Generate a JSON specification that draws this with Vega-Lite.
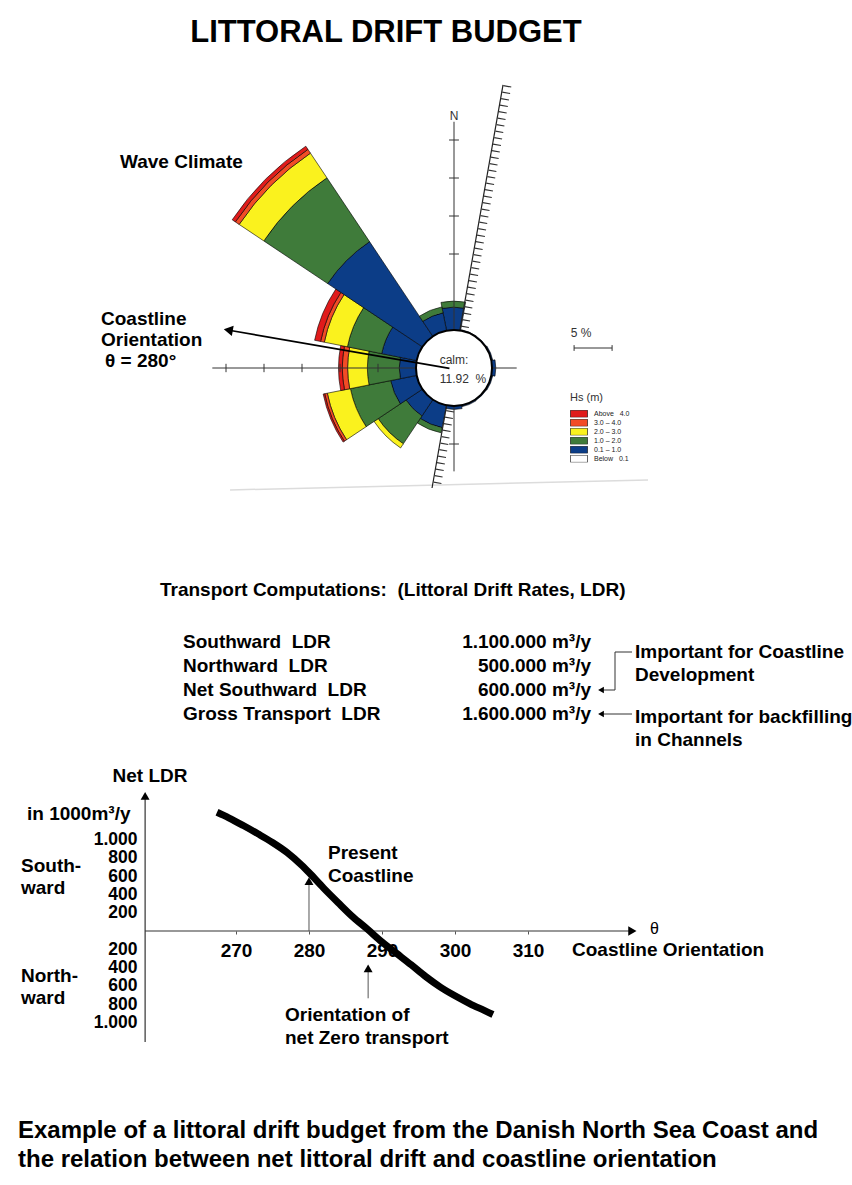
{
  "$schema": "https://vega.github.io/schema/vega-lite/v6.json",
  "padding": 0,
  "spacing": 0,
  "bounds": "flush",
  "background": "white",
  "config": {"view": {"stroke": null}},
  "resolve": {"scale": {"x": "independent", "y": "independent"}},
  "vconcat": [
    {
      "width": 852,
      "height": 560,
      "layer": [
        {
          "data": {"values": [{"u": -29.47, "v": -16.05, "u2": 25.53, "v2": -14.74}]},
          "mark": {"type": "rule", "stroke": "#dcdcdc", "strokeWidth": 1.5},
          "encoding": {
            "x": {"field": "u", "type": "quantitative", "scale": {"domain": [-59.737, 52.368], "nice": false, "zero": false}, "axis": null},
            "y": {"field": "v", "type": "quantitative", "scale": {"domain": [-25.263, 48.421], "nice": false, "zero": false}, "axis": null},
            "x2": {"field": "u2"}, "y2": {"field": "v2"}
          }
        },
        {
          "data": {"values": [
            {"dir": "N", "t0": -11.25, "t1": 10, "r0": 5, "r1": 8.0, "hs": "0.1 \u2013 1.0"},
            {"dir": "N", "t0": -11.25, "t1": 10, "r0": 8.0, "r1": 8.8, "hs": "1.0 \u2013 2.0"},
            {"dir": "NNE", "t0": 11.25, "t1": 33.75, "r0": 5, "r1": 5.12, "hs": "0.1 \u2013 1.0"},
            {"dir": "NE", "t0": 33.75, "t1": 56.25, "r0": 5, "r1": 5.12, "hs": "0.1 \u2013 1.0"},
            {"dir": "ENE", "t0": 56.25, "t1": 78.75, "r0": 5, "r1": 5.2, "hs": "0.1 \u2013 1.0"},
            {"dir": "E", "t0": 78.75, "t1": 101.25, "r0": 5, "r1": 5.5, "hs": "0.1 \u2013 1.0"},
            {"dir": "ESE", "t0": 101.25, "t1": 123.75, "r0": 5, "r1": 5.2, "hs": "0.1 \u2013 1.0"},
            {"dir": "SE", "t0": 123.75, "t1": 146.25, "r0": 5, "r1": 5.15, "hs": "0.1 \u2013 1.0"},
            {"dir": "SSE", "t0": 146.25, "t1": 168.75, "r0": 5, "r1": 5.2, "hs": "0.1 \u2013 1.0"},
            {"dir": "S", "t0": 168.75, "t1": 191.25, "r0": 5, "r1": 5.45, "hs": "0.1 \u2013 1.0"},
            {"dir": "SSW", "t0": 191.25, "t1": 213.75, "r0": 5, "r1": 8.0, "hs": "0.1 \u2013 1.0"},
            {"dir": "SSW", "t0": 191.25, "t1": 213.75, "r0": 8.0, "r1": 8.7, "hs": "1.0 \u2013 2.0"},
            {"dir": "SW", "t0": 213.75, "t1": 236.25, "r0": 5, "r1": 7.6, "hs": "0.1 \u2013 1.0"},
            {"dir": "SW", "t0": 213.75, "t1": 236.25, "r0": 7.6, "r1": 12.0, "hs": "1.0 \u2013 2.0"},
            {"dir": "SW", "t0": 213.75, "t1": 236.25, "r0": 12.0, "r1": 12.65, "hs": "2.0 \u2013 3.0"},
            {"dir": "WSW", "t0": 236.25, "t1": 258.75, "r0": 5, "r1": 8.5, "hs": "0.1 \u2013 1.0"},
            {"dir": "WSW", "t0": 236.25, "t1": 258.75, "r0": 8.5, "r1": 13.9, "hs": "1.0 \u2013 2.0"},
            {"dir": "WSW", "t0": 236.25, "t1": 258.75, "r0": 13.9, "r1": 17.0, "hs": "2.0 \u2013 3.0"},
            {"dir": "WSW", "t0": 236.25, "t1": 258.75, "r0": 17.0, "r1": 17.35, "hs": "3.0 \u2013 4.0"},
            {"dir": "WSW", "t0": 236.25, "t1": 258.75, "r0": 17.35, "r1": 17.55, "hs": "Above\u00a0\u00a0\u00a04.0"},
            {"dir": "W", "t0": 258.75, "t1": 281.25, "r0": 5, "r1": 7.2, "hs": "0.1 \u2013 1.0"},
            {"dir": "W", "t0": 258.75, "t1": 281.25, "r0": 7.2, "r1": 11.4, "hs": "1.0 \u2013 2.0"},
            {"dir": "W", "t0": 258.75, "t1": 281.25, "r0": 11.4, "r1": 14.0, "hs": "2.0 \u2013 3.0"},
            {"dir": "W", "t0": 258.75, "t1": 281.25, "r0": 14.0, "r1": 14.7, "hs": "3.0 \u2013 4.0"},
            {"dir": "W", "t0": 258.75, "t1": 281.25, "r0": 14.7, "r1": 15.2, "hs": "Above\u00a0\u00a0\u00a04.0"},
            {"dir": "WNW", "t0": 281.25, "t1": 303.75, "r0": 5, "r1": 9.7, "hs": "0.1 \u2013 1.0"},
            {"dir": "WNW", "t0": 281.25, "t1": 303.75, "r0": 9.7, "r1": 14.3, "hs": "1.0 \u2013 2.0"},
            {"dir": "WNW", "t0": 281.25, "t1": 303.75, "r0": 14.3, "r1": 17.4, "hs": "2.0 \u2013 3.0"},
            {"dir": "WNW", "t0": 281.25, "t1": 303.75, "r0": 17.4, "r1": 17.9, "hs": "3.0 \u2013 4.0"},
            {"dir": "WNW", "t0": 281.25, "t1": 303.75, "r0": 17.9, "r1": 18.7, "hs": "Above\u00a0\u00a0\u00a04.0"},
            {"dir": "NW", "t0": 303.75, "t1": 326.25, "r0": 5, "r1": 20.0, "hs": "0.1 \u2013 1.0"},
            {"dir": "NW", "t0": 303.75, "t1": 326.25, "r0": 20.0, "r1": 30.1, "hs": "1.0 \u2013 2.0"},
            {"dir": "NW", "t0": 303.75, "t1": 326.25, "r0": 30.1, "r1": 34.0, "hs": "2.0 \u2013 3.0"},
            {"dir": "NW", "t0": 303.75, "t1": 326.25, "r0": 34.0, "r1": 34.6, "hs": "3.0 \u2013 4.0"},
            {"dir": "NW", "t0": 303.75, "t1": 326.25, "r0": 34.6, "r1": 35.1, "hs": "Above\u00a0\u00a0\u00a04.0"},
            {"dir": "NNW", "t0": 326.25, "t1": 348.75, "r0": 5, "r1": 7.4, "hs": "0.1 \u2013 1.0"},
            {"dir": "NNW", "t0": 326.25, "t1": 348.75, "r0": 7.4, "r1": 8.2, "hs": "1.0 \u2013 2.0"}
          ]},
          "mark": {"type": "arc", "stroke": "black", "strokeWidth": 0.6},
          "encoding": {
            "x": {"datum": 0, "type": "quantitative", "scale": {"domain": [-59.737, 52.368], "nice": false, "zero": false}, "axis": null},
            "y": {"datum": 0, "type": "quantitative", "scale": {"domain": [-25.263, 48.421], "nice": false, "zero": false}, "axis": null},
            "theta": {"field": "t0", "type": "quantitative", "scale": {"domain": [0, 360]}},
            "theta2": {"field": "t1"},
            "radius": {"field": "r1", "type": "quantitative", "scale": {"type": "linear", "domain": [0, 50], "range": [0, 380], "zero": true}},
            "radius2": {"field": "r0"},
            "fill": {
              "field": "hs",
              "type": "nominal",
              "scale": {
                "domain": ["Above\u00a0\u00a0\u00a04.0", "3.0 \u2013 4.0", "2.0 \u2013 3.0", "1.0 \u2013 2.0", "0.1 \u2013 1.0", "Below\u00a0\u00a0\u00a00.1"],
                "range": ["#e01b1b", "#f24c26", "#faf21e", "#3f7b3a", "#0c3d87", "#ffffff"]
              },
              "legend": {
                "orient": "none",
                "legendX": 570,
                "legendY": 392,
                "title": "Hs (m)",
                "titleFont": "Liberation Sans",
                "titleFontSize": 11,
                "titleFontWeight": "normal",
                "titleColor": "#333333",
                "titlePadding": 7,
                "symbolType": "M-1,-0.42H1V0.42H-1Z",
                "symbolSize": 289,
                "symbolStrokeColor": "black",
                "symbolStrokeWidth": 0.6,
                "symbolOpacity": 1,
                "clipHeight": 7.6,
                "rowPadding": 0,
                "labelFont": "Liberation Sans",
                "labelFontSize": 7,
                "labelColor": "#222222",
                "labelOffset": 6
              }
            }
          }
        },
        {
          "data": {"values": [
            {"u": -31.8, "v": 0, "u2": 8.25, "v2": 0},
            {"u": 0, "v": -13.6, "u2": 0, "v2": 32.4},
            {"u": -10, "v": -0.55, "u2": -10, "v2": 0.55},
            {"u": -15, "v": -0.55, "u2": -15, "v2": 0.55},
            {"u": -20, "v": -0.55, "u2": -20, "v2": 0.55},
            {"u": -25, "v": -0.55, "u2": -25, "v2": 0.55},
            {"u": -30, "v": -0.55, "u2": -30, "v2": 0.55},
            {"u": -0.65, "v": 15, "u2": 0.65, "v2": 15},
            {"u": -0.65, "v": 20, "u2": 0.65, "v2": 20},
            {"u": -0.65, "v": 25, "u2": 0.65, "v2": 25},
            {"u": -0.65, "v": 30, "u2": 0.65, "v2": 30},
            {"u": -0.65, "v": -10, "u2": 0.65, "v2": -10}
          ]},
          "mark": {"type": "rule", "stroke": "#333333", "strokeWidth": 1},
          "encoding": {
            "x": {"field": "u", "type": "quantitative", "scale": {"domain": [-59.737, 52.368], "nice": false, "zero": false}, "axis": null},
            "y": {"field": "v", "type": "quantitative", "scale": {"domain": [-25.263, 48.421], "nice": false, "zero": false}, "axis": null},
            "x2": {"field": "u2"}, "y2": {"field": "v2"}
          }
        },
        {
          "data": {"values": [{"u": 6.45, "v": 37.24, "u2": -2.89, "v2": -15.79}]},
          "mark": {"type": "rule", "stroke": "#222222", "strokeWidth": 1.2},
          "encoding": {
            "x": {"field": "u", "type": "quantitative", "scale": {"domain": [-59.737, 52.368], "nice": false, "zero": false}, "axis": null},
            "y": {"field": "v", "type": "quantitative", "scale": {"domain": [-25.263, 48.421], "nice": false, "zero": false}, "axis": null},
            "x2": {"field": "u2"}, "y2": {"field": "v2"}
          }
        },
        {
          "data": {"values": [{"u": 7.03, "v": 37.14, "u2": -2.31, "v2": -15.89}]},
          "mark": {"type": "rule", "stroke": "#333333", "strokeWidth": 8, "strokeDash": [1.2, 5.4]},
          "encoding": {
            "x": {"field": "u", "type": "quantitative", "scale": {"domain": [-59.737, 52.368], "nice": false, "zero": false}, "axis": null},
            "y": {"field": "v", "type": "quantitative", "scale": {"domain": [-25.263, 48.421], "nice": false, "zero": false}, "axis": null},
            "x2": {"field": "u2"}, "y2": {"field": "v2"}
          }
        },
        {
          "data": {"values": [{"t0": 0, "t1": 360, "r0": 0, "r1": 5}]},
          "mark": {"type": "arc", "fill": "white", "stroke": "black", "strokeWidth": 2},
          "encoding": {
            "x": {"datum": 0, "type": "quantitative", "scale": {"domain": [-59.737, 52.368], "nice": false, "zero": false}, "axis": null},
            "y": {"datum": 0, "type": "quantitative", "scale": {"domain": [-25.263, 48.421], "nice": false, "zero": false}, "axis": null},
            "theta": {"field": "t0", "type": "quantitative", "scale": {"domain": [0, 360]}},
            "theta2": {"field": "t1"},
            "radius": {"field": "r1", "type": "quantitative", "scale": {"type": "linear", "domain": [0, 50], "range": [0, 380], "zero": true}},
            "radius2": {"field": "r0"}
          }
        },
        {
          "data": {"values": [{"u": -0.6, "v": -0.05, "u2": -29.4, "v2": 4.93}]},
          "mark": {"type": "rule", "stroke": "black", "strokeWidth": 1.6},
          "encoding": {
            "x": {"field": "u", "type": "quantitative", "scale": {"domain": [-59.737, 52.368], "nice": false, "zero": false}, "axis": null},
            "y": {"field": "v", "type": "quantitative", "scale": {"domain": [-25.263, 48.421], "nice": false, "zero": false}, "axis": null},
            "x2": {"field": "u2"}, "y2": {"field": "v2"}
          }
        },
        {
          "data": {"values": [{"u": -29.7, "v": 4.98}]},
          "mark": {"type": "point", "shape": "triangle-up", "filled": true, "fill": "black", "opacity": 1, "size": 110, "angle": 280, "strokeWidth": 0},
          "encoding": {
            "x": {"field": "u", "type": "quantitative", "scale": {"domain": [-59.737, 52.368], "nice": false, "zero": false}, "axis": null},
            "y": {"field": "v", "type": "quantitative", "scale": {"domain": [-25.263, 48.421], "nice": false, "zero": false}, "axis": null}
          }
        },
        {
          "data": {"values": [{"u": 15.8, "v": 2.63, "u2": 20.8, "v2": 2.63}, {"u": 15.8, "v": 2.25, "u2": 15.8, "v2": 3.01}, {"u": 20.8, "v": 2.25, "u2": 20.8, "v2": 3.01}]},
          "mark": {"type": "rule", "stroke": "#333333", "strokeWidth": 1},
          "encoding": {
            "x": {"field": "u", "type": "quantitative", "scale": {"domain": [-59.737, 52.368], "nice": false, "zero": false}, "axis": null},
            "y": {"field": "v", "type": "quantitative", "scale": {"domain": [-25.263, 48.421], "nice": false, "zero": false}, "axis": null},
            "x2": {"field": "u2"}, "y2": {"field": "v2"}
          }
        },
        {
          "data": {"values": [{"u": -8.95, "v": 44.08, "label": "LITTORAL DRIFT BUDGET"}]},
          "mark": {"type": "text", "font": "Liberation Sans", "fontWeight": "bold", "fontSize": 31, "align": "center", "baseline": "middle", "fill": "black"},
          "encoding": {
            "x": {"field": "u", "type": "quantitative", "scale": {"domain": [-59.737, 52.368], "nice": false, "zero": false}, "axis": null},
            "y": {"field": "v", "type": "quantitative", "scale": {"domain": [-25.263, 48.421], "nice": false, "zero": false}, "axis": null},
            "text": {"field": "label"}
          }
        },
        {
          "data": {"values": [
            {"u": -43.95, "v": 27.17, "label": "Wave Climate"},
            {"u": -46.45, "v": 6.45, "label": "Coastline"},
            {"u": -46.45, "v": 3.68, "label": "Orientation"},
            {"u": -45.92, "v": 0.92, "label": "\u03b8 = 280\u00b0"}
          ]},
          "mark": {"type": "text", "font": "Liberation Sans", "fontWeight": "bold", "fontSize": 19, "align": "left", "baseline": "middle", "fill": "black"},
          "encoding": {
            "x": {"field": "u", "type": "quantitative", "scale": {"domain": [-59.737, 52.368], "nice": false, "zero": false}, "axis": null},
            "y": {"field": "v", "type": "quantitative", "scale": {"domain": [-25.263, 48.421], "nice": false, "zero": false}, "axis": null},
            "text": {"field": "label"}
          }
        },
        {
          "data": {"values": [
            {"u": 0, "v": 33.22, "label": "N"},
            {"u": 0, "v": 1.05, "label": "calm:"},
            {"u": 1.18, "v": -1.45, "label": "11.92\u00a0 %"},
            {"u": 16.71, "v": 4.61, "label": "5 %"}
          ]},
          "mark": {"type": "text", "font": "Liberation Sans", "fontWeight": "normal", "fontSize": 12, "align": "center", "baseline": "middle", "fill": "#333333"},
          "encoding": {
            "x": {"field": "u", "type": "quantitative", "scale": {"domain": [-59.737, 52.368], "nice": false, "zero": false}, "axis": null},
            "y": {"field": "v", "type": "quantitative", "scale": {"domain": [-25.263, 48.421], "nice": false, "zero": false}, "axis": null},
            "text": {"field": "label"}
          }
        }
      ]
    },
    {
      "width": 852,
      "height": 195,
      "layer": [
        {
          "data": {"values": [
            {"x": 160, "y": 30, "label": "Transport Computations:\u00a0 (Littoral Drift Rates, LDR)"},
            {"x": 183, "y": 82, "label": "Southward\u00a0 LDR"},
            {"x": 183, "y": 106, "label": "Northward\u00a0 LDR"},
            {"x": 183, "y": 130, "label": "Net Southward\u00a0 LDR"},
            {"x": 183, "y": 154, "label": "Gross Transport\u00a0 LDR"},
            {"x": 635, "y": 92, "label": "Important for Coastline"},
            {"x": 635, "y": 115, "label": "Development"},
            {"x": 635, "y": 157, "label": "Important for backfilling"},
            {"x": 635, "y": 180, "label": "in Channels"}
          ]},
          "mark": {"type": "text", "font": "Liberation Sans", "fontWeight": "bold", "fontSize": 19, "align": "left", "baseline": "middle", "fill": "black"},
          "encoding": {
            "x": {"field": "x", "type": "quantitative", "scale": {"domain": [0, 852], "nice": false, "zero": false}, "axis": null},
            "y": {"field": "y", "type": "quantitative", "scale": {"domain": [0, 195], "reverse": true, "nice": false, "zero": false}, "axis": null},
            "text": {"field": "label"}
          }
        },
        {
          "data": {"values": [
            {"x": 591, "y": 82, "label": "1.100.000 m\u00b3/y"},
            {"x": 591, "y": 106, "label": "500.000 m\u00b3/y"},
            {"x": 591, "y": 130, "label": "600.000 m\u00b3/y"},
            {"x": 591, "y": 154, "label": "1.600.000 m\u00b3/y"}
          ]},
          "mark": {"type": "text", "font": "Liberation Sans", "fontWeight": "bold", "fontSize": 19, "align": "right", "baseline": "middle", "fill": "black"},
          "encoding": {
            "x": {"field": "x", "type": "quantitative", "scale": {"domain": [0, 852], "nice": false, "zero": false}, "axis": null},
            "y": {"field": "y", "type": "quantitative", "scale": {"domain": [0, 195], "reverse": true, "nice": false, "zero": false}, "axis": null},
            "text": {"field": "label"}
          }
        },
        {
          "data": {"values": [
            {"x": 615, "y": 92, "x2": 632, "y2": 92},
            {"x": 615, "y": 92, "x2": 615, "y2": 130},
            {"x": 615, "y": 130, "x2": 603, "y2": 130},
            {"x": 632, "y": 154, "x2": 603, "y2": 154}
          ]},
          "mark": {"type": "rule", "stroke": "#333333", "strokeWidth": 1},
          "encoding": {
            "x": {"field": "x", "type": "quantitative", "scale": {"domain": [0, 852], "nice": false, "zero": false}, "axis": null},
            "y": {"field": "y", "type": "quantitative", "scale": {"domain": [0, 195], "reverse": true, "nice": false, "zero": false}, "axis": null},
            "x2": {"field": "x2"}, "y2": {"field": "y2"}
          }
        },
        {
          "data": {"values": [{"x": 601, "y": 130}, {"x": 601, "y": 154}]},
          "mark": {"type": "point", "shape": "triangle-left", "filled": true, "fill": "black", "opacity": 1, "size": 45, "strokeWidth": 0},
          "encoding": {
            "x": {"field": "x", "type": "quantitative", "scale": {"domain": [0, 852], "nice": false, "zero": false}, "axis": null},
            "y": {"field": "y", "type": "quantitative", "scale": {"domain": [0, 195], "reverse": true, "nice": false, "zero": false}, "axis": null}
          }
        }
      ]
    },
    {
      "width": 852,
      "height": 335,
      "layer": [
        {
          "data": {"values": [
            {"t": 257.55, "q": 0, "t2": 324, "q2": 0},
            {"t": 257.55, "q": -1216, "t2": 257.55, "q2": 1470}
          ]},
          "mark": {"type": "rule", "stroke": "#333333", "strokeWidth": 1.2},
          "encoding": {
            "x": {"field": "t", "type": "quantitative", "scale": {"domain": [237.671, 354.384], "nice": false, "zero": false},
              "axis": {"orient": "bottom", "offset": -159, "values": [270, 280, 290, 300, 310], "domain": false, "ticks": true, "tickSize": 3, "tickColor": "#555555", "grid": false, "title": null, "labelFont": "Liberation Sans", "labelFontWeight": "bold", "labelFontSize": 19, "labelColor": "black", "labelPadding": 7, "labelFlush": false, "labelOverlap": false}},
            "y": {"field": "q", "type": "quantitative", "scale": {"domain": [-1741.5, 1927.7], "nice": false, "zero": false},
              "axis": {"orient": "left", "offset": -145, "values": [-1000, -800, -600, -400, -200, 200, 400, 600, 800, 1000], "domain": false, "ticks": false, "grid": false, "title": null, "labelFont": "Liberation Sans", "labelFontWeight": "bold", "labelFontSize": 17.5, "labelColor": "black", "labelPadding": 8, "labelOverlap": false, "labelFlush": false, "labelBaseline": "middle", "labelExpr": "replace(format(abs(datum.value), ','), ',', '.')"}},
            "x2": {"field": "t2"}, "y2": {"field": "q2"}
          }
        },
        {
          "data": {"values": [
            {"t": 280, "q": 0, "t2": 280, "q2": 520},
            {"t": 288.1, "q": -440, "t2": 288.1, "q2": -737}
          ]},
          "mark": {"type": "rule", "stroke": "#555555", "strokeWidth": 1},
          "encoding": {
            "x": {"field": "t", "type": "quantitative", "scale": {"domain": [237.671, 354.384], "nice": false, "zero": false},
              "axis": {"orient": "bottom", "offset": -159, "values": [270, 280, 290, 300, 310], "domain": false, "ticks": true, "tickSize": 3, "tickColor": "#555555", "grid": false, "title": null, "labelFont": "Liberation Sans", "labelFontWeight": "bold", "labelFontSize": 19, "labelColor": "black", "labelPadding": 7, "labelFlush": false, "labelOverlap": false}},
            "y": {"field": "q", "type": "quantitative", "scale": {"domain": [-1741.5, 1927.7], "nice": false, "zero": false},
              "axis": {"orient": "left", "offset": -145, "values": [-1000, -800, -600, -400, -200, 200, 400, 600, 800, 1000], "domain": false, "ticks": false, "grid": false, "title": null, "labelFont": "Liberation Sans", "labelFontWeight": "bold", "labelFontSize": 17.5, "labelColor": "black", "labelPadding": 8, "labelOverlap": false, "labelFlush": false, "labelBaseline": "middle", "labelExpr": "replace(format(abs(datum.value), ','), ',', '.')"}},
            "x2": {"field": "t2"}, "y2": {"field": "q2"}
          }
        },
        {
          "data": {"values": [{"t": 257.55, "q": 1480}, {"t": 280, "q": 545}, {"t": 288.1, "q": -410}]},
          "mark": {"type": "point", "shape": "triangle-up", "filled": true, "fill": "black", "opacity": 1, "size": 80, "strokeWidth": 0},
          "encoding": {
            "x": {"field": "t", "type": "quantitative", "scale": {"domain": [237.671, 354.384], "nice": false, "zero": false},
              "axis": {"orient": "bottom", "offset": -159, "values": [270, 280, 290, 300, 310], "domain": false, "ticks": true, "tickSize": 3, "tickColor": "#555555", "grid": false, "title": null, "labelFont": "Liberation Sans", "labelFontWeight": "bold", "labelFontSize": 19, "labelColor": "black", "labelPadding": 7, "labelFlush": false, "labelOverlap": false}},
            "y": {"field": "q", "type": "quantitative", "scale": {"domain": [-1741.5, 1927.7], "nice": false, "zero": false},
              "axis": {"orient": "left", "offset": -145, "values": [-1000, -800, -600, -400, -200, 200, 400, 600, 800, 1000], "domain": false, "ticks": false, "grid": false, "title": null, "labelFont": "Liberation Sans", "labelFontWeight": "bold", "labelFontSize": 17.5, "labelColor": "black", "labelPadding": 8, "labelOverlap": false, "labelFlush": false, "labelBaseline": "middle", "labelExpr": "replace(format(abs(datum.value), ','), ',', '.')"}}
          }
        },
        {
          "data": {"values": [{"t": 324.3, "q": 0}]},
          "mark": {"type": "point", "shape": "triangle-right", "filled": true, "fill": "black", "opacity": 1, "size": 90, "strokeWidth": 0},
          "encoding": {
            "x": {"field": "t", "type": "quantitative", "scale": {"domain": [237.671, 354.384], "nice": false, "zero": false},
              "axis": {"orient": "bottom", "offset": -159, "values": [270, 280, 290, 300, 310], "domain": false, "ticks": true, "tickSize": 3, "tickColor": "#555555", "grid": false, "title": null, "labelFont": "Liberation Sans", "labelFontWeight": "bold", "labelFontSize": 19, "labelColor": "black", "labelPadding": 7, "labelFlush": false, "labelOverlap": false}},
            "y": {"field": "q", "type": "quantitative", "scale": {"domain": [-1741.5, 1927.7], "nice": false, "zero": false},
              "axis": {"orient": "left", "offset": -145, "values": [-1000, -800, -600, -400, -200, 200, 400, 600, 800, 1000], "domain": false, "ticks": false, "grid": false, "title": null, "labelFont": "Liberation Sans", "labelFontWeight": "bold", "labelFontSize": 17.5, "labelColor": "black", "labelPadding": 8, "labelOverlap": false, "labelFlush": false, "labelBaseline": "middle", "labelExpr": "replace(format(abs(datum.value), ','), ',', '.')"}}
          }
        },
        {
          "data": {"values": [
            {"t": 267.4, "q": 1300},
            {"t": 269, "q": 1240},
            {"t": 271, "q": 1155},
            {"t": 273, "q": 1065},
            {"t": 275, "q": 970},
            {"t": 277, "q": 860},
            {"t": 279, "q": 720},
            {"t": 280, "q": 640},
            {"t": 282, "q": 470},
            {"t": 284, "q": 310},
            {"t": 286, "q": 155},
            {"t": 288, "q": 20},
            {"t": 290, "q": -120},
            {"t": 292, "q": -245},
            {"t": 294, "q": -370},
            {"t": 296, "q": -500},
            {"t": 298, "q": -615},
            {"t": 300, "q": -710},
            {"t": 302, "q": -795},
            {"t": 304, "q": -870},
            {"t": 305.2, "q": -915}
          ]},
          "mark": {"type": "line", "stroke": "black", "strokeWidth": 7, "interpolate": "monotone", "strokeCap": "butt"},
          "encoding": {
            "x": {"field": "t", "type": "quantitative", "scale": {"domain": [237.671, 354.384], "nice": false, "zero": false},
              "axis": {"orient": "bottom", "offset": -159, "values": [270, 280, 290, 300, 310], "domain": false, "ticks": true, "tickSize": 3, "tickColor": "#555555", "grid": false, "title": null, "labelFont": "Liberation Sans", "labelFontWeight": "bold", "labelFontSize": 19, "labelColor": "black", "labelPadding": 7, "labelFlush": false, "labelOverlap": false}},
            "y": {"field": "q", "type": "quantitative", "scale": {"domain": [-1741.5, 1927.7], "nice": false, "zero": false},
              "axis": {"orient": "left", "offset": -145, "values": [-1000, -800, -600, -400, -200, 200, 400, 600, 800, 1000], "domain": false, "ticks": false, "grid": false, "title": null, "labelFont": "Liberation Sans", "labelFontWeight": "bold", "labelFontSize": 17.5, "labelColor": "black", "labelPadding": 8, "labelOverlap": false, "labelFlush": false, "labelBaseline": "middle", "labelExpr": "replace(format(abs(datum.value), ','), ',', '.')"}}
          }
        },
        {
          "data": {"values": [
            {"t": 241.37, "q": 1285, "label": "in 1000m\u00b3/y"},
            {"t": 240.55, "q": 712, "label": "South-"},
            {"t": 240.55, "q": 471, "label": "ward"},
            {"t": 240.55, "q": -493, "label": "North-"},
            {"t": 240.55, "q": -734, "label": "ward"},
            {"t": 282.6, "q": 854, "label": "Present"},
            {"t": 282.6, "q": 602, "label": "Coastline"},
            {"t": 276.71, "q": -920, "label": "Orientation of"},
            {"t": 276.71, "q": -1172, "label": "net Zero transport"},
            {"t": 316.03, "q": -208, "label": "Coastline Orientation"}
          ]},
          "mark": {"type": "text", "font": "Liberation Sans", "fontWeight": "bold", "fontSize": 19, "align": "left", "baseline": "middle", "fill": "black"},
          "encoding": {
            "x": {"field": "t", "type": "quantitative", "scale": {"domain": [237.671, 354.384], "nice": false, "zero": false},
              "axis": {"orient": "bottom", "offset": -159, "values": [270, 280, 290, 300, 310], "domain": false, "ticks": true, "tickSize": 3, "tickColor": "#555555", "grid": false, "title": null, "labelFont": "Liberation Sans", "labelFontWeight": "bold", "labelFontSize": 19, "labelColor": "black", "labelPadding": 7, "labelFlush": false, "labelOverlap": false}},
            "y": {"field": "q", "type": "quantitative", "scale": {"domain": [-1741.5, 1927.7], "nice": false, "zero": false},
              "axis": {"orient": "left", "offset": -145, "values": [-1000, -800, -600, -400, -200, 200, 400, 600, 800, 1000], "domain": false, "ticks": false, "grid": false, "title": null, "labelFont": "Liberation Sans", "labelFontWeight": "bold", "labelFontSize": 17.5, "labelColor": "black", "labelPadding": 8, "labelOverlap": false, "labelFlush": false, "labelBaseline": "middle", "labelExpr": "replace(format(abs(datum.value), ','), ',', '.')"}},
            "text": {"field": "label"}
          }
        },
        {
          "data": {"values": [{"t": 258.22, "q": 1698, "label": "Net LDR"}]},
          "mark": {"type": "text", "font": "Liberation Sans", "fontWeight": "bold", "fontSize": 19, "align": "center", "baseline": "middle", "fill": "black"},
          "encoding": {
            "x": {"field": "t", "type": "quantitative", "scale": {"domain": [237.671, 354.384], "nice": false, "zero": false},
              "axis": {"orient": "bottom", "offset": -159, "values": [270, 280, 290, 300, 310], "domain": false, "ticks": true, "tickSize": 3, "tickColor": "#555555", "grid": false, "title": null, "labelFont": "Liberation Sans", "labelFontWeight": "bold", "labelFontSize": 19, "labelColor": "black", "labelPadding": 7, "labelFlush": false, "labelOverlap": false}},
            "y": {"field": "q", "type": "quantitative", "scale": {"domain": [-1741.5, 1927.7], "nice": false, "zero": false},
              "axis": {"orient": "left", "offset": -145, "values": [-1000, -800, -600, -400, -200, 200, 400, 600, 800, 1000], "domain": false, "ticks": false, "grid": false, "title": null, "labelFont": "Liberation Sans", "labelFontWeight": "bold", "labelFontSize": 17.5, "labelColor": "black", "labelPadding": 8, "labelOverlap": false, "labelFlush": false, "labelBaseline": "middle", "labelExpr": "replace(format(abs(datum.value), ','), ',', '.')"}},
            "text": {"field": "label"}
          }
        },
        {
          "data": {"values": [{"t": 326.71, "q": 22, "label": "\u03b8"}]},
          "mark": {"type": "text", "font": "Liberation Sans", "fontWeight": "normal", "fontSize": 16, "align": "left", "baseline": "middle", "fill": "black"},
          "encoding": {
            "x": {"field": "t", "type": "quantitative", "scale": {"domain": [237.671, 354.384], "nice": false, "zero": false},
              "axis": {"orient": "bottom", "offset": -159, "values": [270, 280, 290, 300, 310], "domain": false, "ticks": true, "tickSize": 3, "tickColor": "#555555", "grid": false, "title": null, "labelFont": "Liberation Sans", "labelFontWeight": "bold", "labelFontSize": 19, "labelColor": "black", "labelPadding": 7, "labelFlush": false, "labelOverlap": false}},
            "y": {"field": "q", "type": "quantitative", "scale": {"domain": [-1741.5, 1927.7], "nice": false, "zero": false},
              "axis": {"orient": "left", "offset": -145, "values": [-1000, -800, -600, -400, -200, 200, 400, 600, 800, 1000], "domain": false, "ticks": false, "grid": false, "title": null, "labelFont": "Liberation Sans", "labelFontWeight": "bold", "labelFontSize": 17.5, "labelColor": "black", "labelPadding": 8, "labelOverlap": false, "labelFlush": false, "labelBaseline": "middle", "labelExpr": "replace(format(abs(datum.value), ','), ',', '.')"}},
            "text": {"field": "label"}
          }
        }
      ]
    },
    {
      "width": 852,
      "height": 95,
      "layer": [
        {
          "data": {"values": [
            {"x": 18, "y": 41, "label": "Example of a littoral drift budget from the Danish North Sea Coast and"},
            {"x": 18, "y": 70, "label": "the relation between net littoral drift and coastline orientation"}
          ]},
          "mark": {"type": "text", "font": "Liberation Sans", "fontWeight": "bold", "fontSize": 24, "align": "left", "baseline": "middle", "fill": "black"},
          "encoding": {
            "x": {"field": "x", "type": "quantitative", "scale": {"domain": [0, 852], "nice": false, "zero": false}, "axis": null},
            "y": {"field": "y", "type": "quantitative", "scale": {"domain": [0, 95], "reverse": true, "nice": false, "zero": false}, "axis": null},
            "text": {"field": "label"}
          }
        }
      ]
    }
  ]
}
